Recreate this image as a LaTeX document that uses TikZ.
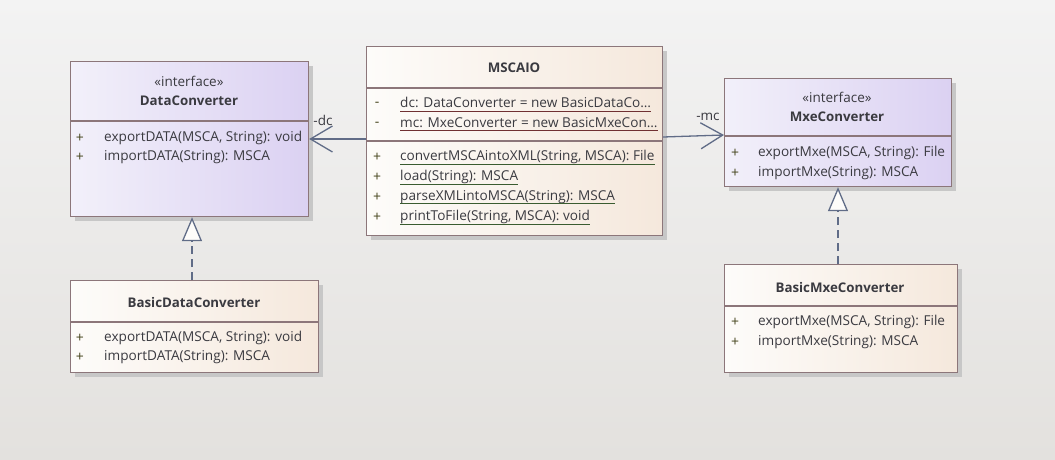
\documentclass[tikz,border=0pt]{standalone}
\usepackage{fontspec}
\setmainfont{Open Sans}
\usetikzlibrary{arrows.meta,shadows}

\definecolor{bgtop}{RGB}{243,243,243}
\definecolor{bgbot}{RGB}{227,225,222}
\definecolor{boxline}{RGB}{140,118,122}
\definecolor{ifaceL}{RGB}{242,240,250}
\definecolor{ifaceR}{RGB}{219,209,242}
\definecolor{classL}{RGB}{253,252,250}
\definecolor{classR}{RGB}{245,232,220}
\definecolor{txt}{RGB}{58,58,64}
\definecolor{vis}{RGB}{70,70,30}
\definecolor{attrul}{RGB}{112,48,50}
\definecolor{methul}{RGB}{58,92,48}
\definecolor{conn}{RGB}{96,108,135}

\begin{document}
\begin{tikzpicture}[x=1pt,y=-1pt]
	\tikzset{umlbox/.style={draw=boxline,line width=1.2pt,anchor=north west,inner sep=0pt,
			drop shadow={shadow xshift=4pt,shadow yshift=-4pt,fill=black!22,opacity=1}},
		iface/.style={umlbox,left color=ifaceL,right color=ifaceR},
		klass/.style={umlbox,left color=classL,right color=classR},
		sepline/.style={draw=boxline,line width=1.2pt},
		title/.style={font=\fontsize{13.3}{15}\selectfont\bfseries,text=txt},
		stereo/.style={font=\fontsize{13.5}{15}\selectfont,text=txt},
		member/.style={font=\fontsize{13.6}{15}\selectfont,text=txt,anchor=west,inner sep=0pt,text depth=3.5pt},
		visib/.style={font=\fontsize{14}{15}\selectfont,text=vis,inner sep=0pt},
		assoc/.style={draw=conn,line width=1.3pt,-{Straight Barb[length=22pt,width=26pt,line width=1.3pt]}},
		realize/.style={draw=conn,line width=1.3pt,dash pattern=on 8pt off 5pt,
			-{Triangle[open,length=24pt,width=20pt,line width=1.3pt,fill=classL]}},
		rolelbl/.style={font=\fontsize{13.5}{15}\selectfont,text=txt,inner sep=0pt}}
	% background
	\shade[top color=bgtop,bottom color=bgbot] (0,0) rectangle (1055,460);
	% boxes
	\node[iface,minimum width=238pt,minimum height=155pt] (DC) at (70,61) {};
	\node[klass,minimum width=296pt,minimum height=189pt] (MS) at (366,46) {};
	\node[iface,minimum width=227pt,minimum height=108pt] (MX) at (724,78) {};
	\node[klass,minimum width=248pt,minimum height=92pt] (BD) at (70,280) {};
	\node[klass,minimum width=233pt,minimum height=108pt] (BM) at (724,264) {};
	\draw[sepline] (DC.west |- 0,121) -- (DC.east |- 0,121);
	\draw[sepline] (MS.west |- 0,88) -- (MS.east |- 0,88);
	\draw[sepline] (MS.west |- 0,141) -- (MS.east |- 0,141);
	\draw[sepline] (MX.west |- 0,136) -- (MX.east |- 0,136);
	\draw[sepline] (BD.west |- 0,322) -- (BD.east |- 0,322);
	\draw[sepline] (BM.west |- 0,306) -- (BM.east |- 0,306);
	% headers
	\node[stereo] (DCst) at (189,81) {«interface»};
	\node[title] (DCt) at (189,101) {DataConverter};
	\node[title] (MSt) at (514,68) {MSCAIO};
	\node[stereo] (MXst) at (837,97) {«interface»};
	\node[title] (MXt) at (837,117) {MxeConverter};
	\node[title] (BDt) at (194,303) {BasicDataConverter};
	\node[title] (BMt) at (840,288) {BasicMxeConverter};
	% members
	\foreach \t [count=\i] in {{exportDATA(MSCA, String): void},{importDATA(String): MSCA}}{
		\node[visib] (dcv\i) at (80,{119+19*\i}) {+};
		\node[member] (dcm\i) at (104,{119+19*\i}) {\t};
		\node[visib] (bdv\i) at (80,{319+19*\i}) {+};
		\node[member] (bdm\i) at (104,{319+19*\i}) {\t};
	}
	\foreach \t [count=\i] in {{exportMxe(MSCA, String): File},{importMxe(String): MSCA}}{
		\node[visib] (mxv\i) at (735,{133+20*\i}) {+};
		\node[member] (mxm\i) at (758,{133+20*\i}) {\t};
		\node[visib] (bmv\i) at (735,{302+20*\i}) {+};
		\node[member] (bmm\i) at (758,{302+20*\i}) {\t};
	}
	\foreach \t [count=\i] in {{dc: DataConverter = new BasicDataCo…},{mc: MxeConverter = new BasicMxeCon…}}{
		\node[visib] (msa\i) at (377,{84+20*\i}) {-};
		\node[member] (msat\i) at (400,{84+20*\i}) {\t};
		\draw[attrul,line width=1pt] (msat\i.south west) -- (msat\i.south east);
	}
	\foreach \t [count=\i] in {{convertMSCAintoXML(String, MSCA): File},{load(String): MSCA},
			{parseXMLintoMSCA(String): MSCA},{printToFile(String, MSCA): void}}{
		\node[visib] (msv\i) at (377,{137+20*\i}) {+};
		\node[member] (msm\i) at (400,{137+20*\i}) {\t};
		\draw[methul,line width=1pt] (msm\i.south west) -- (msm\i.south east);
	}
	% connectors
	\draw[assoc] (MS.west |- 0,139) -- (DC.east |- 0,139);
	\draw[assoc] (MS.east |- 0,137) -- (MX.west |- 0,135);
	\node[rolelbl] (dcl) at (323,120) {-dc};
	\node[rolelbl] (mcl) at (708,117) {-mc};
	\draw[realize] (192,0 |- BD.north) -- (192,0 |- DC.south);
	\draw[realize] (838,0 |- BM.north) -- (838,0 |- MX.south);
\end{tikzpicture}
\end{document}
